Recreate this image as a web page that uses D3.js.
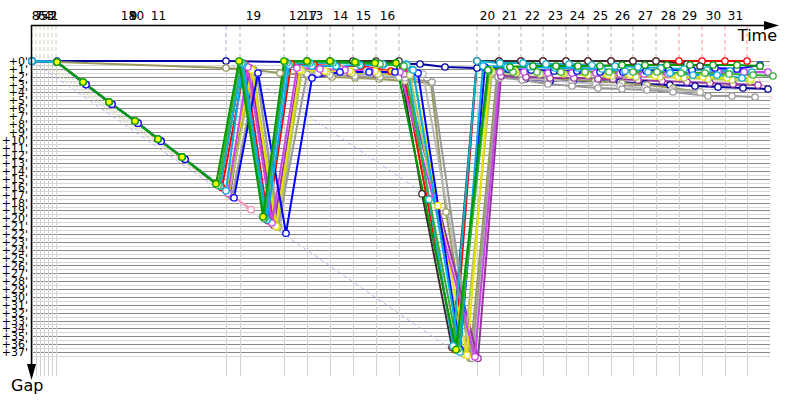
<!DOCTYPE html>
<html>
<head>
<meta charset="utf-8">
<script src="https://cdn.jsdelivr.net/npm/d3@7"></script>
<style>
body { margin: 0; background: #fff; }
text { font-family: "DejaVu Sans", sans-serif; }
</style>
</head>
<body>
<script>
// lap lines: leader crossing times (minutes)
const earlyLaps = [0, 0.4, 0.8, 1.2, 1.6, 2.0, 2.4]
const blueLaps = [19.4]
const grayLaps = [20.8, 25.2, 27.5, 29.8, 32.1, 34.4, 36.7, 44.5, 46.7, 48.9, 51.1, 53.4, 55.6, 57.9, 60.1, 62.4]
const redLaps = [64.7, 67.0, 69.3, 71.5]

// lap numbers written above the chart
const lapLabels = ['8', '7', '6', '5', '4', '3', '2', '1', '18', '9', '10', '11', '19', '12', '17', '13', '14', '15', '16',
    '20', '21', '22', '23', '24', '25', '26', '27', '28', '29', '30', '31']
const lapLabelTimes = [0.3, 0.6, 0.9, 1.2, 1.5, 1.8, 2.1, 2.2, 9.6, 10.1, 10.4, 12.6, 22.1, 26.4, 27.7, 28.3, 30.8, 33.1, 35.5,
    45.5, 47.7, 50.0, 52.3, 54.5, 56.8, 59.0, 61.3, 63.6, 65.7, 68.1, 70.3]

const gapTicks = d3.range(0, 38)

// dashed connectors [t1, gap1, t2, gap2]
const earlyLinks = [[0.4, 0, 18.6, 15.9], [0.8, 0, 19.0, 16.2], [1.2, 0, 19.4, 16.6], [1.6, 0, 19.8, 16.9], [2.0, 0, 20.2, 17.3]]
const blueLinks = [[0, 0, 42.3, 37.0], [19.4, 0, 40.0, 17.5]]
const redLinks = [[64.7, 0, 67.6, 4.45], [67.0, 0, 70.0, 4.45], [69.3, 0, 72.3, 4.58], [71.5, 0, 74.0, 4.8]]

// [time, gap]
const rampUpper = [[0, 0], [2.5, 0.13], [5.1, 2.67], [7.7, 5.21], [10.3, 7.63], [12.6, 9.92], [15.0, 12.2]]
const rampLower = [[0, 0], [2.5, 0.13], [5.4, 3.0], [8.0, 5.5], [10.6, 7.9], [12.9, 10.2], [15.3, 12.5]]

const navy = [[0, 0], [2.5, 0], [19.4, 0], [38.8, 0.38], [41.3, 0.76], [44.5, 0.89], [46.8, 1.78], [49.3, 2.29], [51.8, 2.54],
    [54.1, 2.54], [56.5, 2.54], [58.8, 2.67], [61.3, 2.92], [63.8, 3.05], [66.3, 3.18], [68.6, 3.31], [71.1, 3.43], [73.6, 3.56]]
const red = rampUpper.concat([[19.0, 16.1], [21.3, 0.38], [23.6, 20.3], [25.9, 0.38], [28.2, 0.51], [30.5, 0.64], [32.9, 0.64],
    [35.9, 1.27], [37.1, 1.14], [42.3, 36.7], [44.5, 0], [46.7, 0], [48.9, 0], [51.1, 0], [53.4, 0], [55.6, 0], [57.9, 0],
    [60.1, 0], [62.4, 0], [64.7, 0], [67.0, 0], [69.3, 0], [71.5, 0]])
const black = rampUpper.concat([[18.8, 15.9], [21.0, 0.25], [23.3, 20.0], [25.4, 0.13], [27.5, 0], [29.8, 0], [32.1, 0],
    [34.4, 0], [36.7, 0], [39.0, 16.9], [42.0, 36.4], [44.5, 0], [46.7, 0], [48.9, 0], [51.1, 0], [53.4, 0], [55.6, 0],
    [57.9, 0], [60.1, 0], [62.4, 0], [65.5, 0.38], [66.8, 0.64]])
const olive = [[0, 0], [2.5, 0.13], [19.4, 0.89], [22.2, 1.14], [24.8, 1.53], [27.5, 1.78], [30.0, 2.03],
    [32.3, 2.16], [34.7, 2.29], [37.3, 2.54], [39.9, 2.8], [41.4, 19.2], [43.8, 37.8], [46.5, 1.78], [49.0, 1.91], [51.6, 2.16],
    [54.0, 2.42], [56.3, 2.54], [59.0, 2.8], [61.5, 3.05], [64.1, 3.43], [66.8, 3.94]]
const lightgray = rampLower.concat([[20.1, 17.3], [22.4, 1.4], [24.8, 21.2], [26.8, 1.02], [28.6, 1.53], [31.1, 1.02],
    [33.5, 1.27], [36.7, 2.03], [39.1, 1.65], [44.2, 37.6], [46.8, 2.16], [49.2, 2.29], [51.6, 2.42], [54.0, 2.67],
    [56.4, 2.92], [58.8, 3.18], [61.3, 3.43], [64.0, 3.69], [66.8, 3.94]])
const gray = rampLower.concat([[20.0, 17.2], [22.5, 1.53], [24.6, 21.1], [27.5, 1.65], [29.8, 1.78], [32.3, 1.91],
    [34.8, 2.03], [37.3, 2.16], [40.0, 2.67], [44.0, 37.8], [46.6, 2.03], [49.0, 2.42], [51.6, 2.92], [54.0, 3.18],
    [56.6, 3.43], [59.0, 3.56], [61.5, 3.69], [64.1, 3.94], [67.6, 4.45], [70.0, 4.45], [72.3, 4.58]])
const purple = rampLower.concat([[19.8, 17.0], [21.8, 0.89], [24.2, 20.9], [26.7, 1.14], [29.2, 1.4], [31.8, 1.53],
    [34.4, 1.65], [37.2, 1.65], [44.6, 37.8], [46.9, 1.91], [49.4, 2.03], [51.8, 2.16], [54.2, 2.16], [56.6, 2.29],
    [58.1, 2.29], [60.6, 2.42], [63.0, 2.54], [65.5, 2.67], [67.8, 2.8], [70.1, 2.92], [72.6, 3.05]])
const magenta = rampLower.concat([[19.6, 16.8], [21.6, 0.76], [24.0, 20.6], [26.5, 0.89], [28.8, 1.02], [31.3, 1.14],
    [33.8, 1.27], [36.8, 1.4], [44.3, 37.6], [46.8, 1.4], [49.2, 1.4], [51.6, 1.53], [54.0, 1.53], [56.4, 1.53], [58.8, 1.65],
    [61.2, 1.65], [63.6, 1.65], [66.0, 1.53], [68.6, 1.4], [71.2, 1.4], [73.6, 1.4]])
const yellowgreen = rampUpper.concat([[19.7, 16.9], [22.1, 1.27], [24.5, 21.1], [27.0, 1.27], [29.5, 1.4], [32.0, 1.53],
    [34.6, 1.65], [37.8, 1.78], [43.2, 37.3], [46.0, 1.4], [48.4, 1.53], [50.8, 1.65], [53.2, 1.65], [55.6, 1.78],
    [58.0, 1.91], [60.4, 2.03], [62.8, 2.03], [65.2, 2.16], [67.6, 2.29], [70.0, 2.42], [71.8, 2.54]])
const yellow = rampUpper.concat([[19.4, 16.5], [22.0, 1.14], [24.4, 21.0], [26.8, 1.14], [29.3, 1.27], [31.8, 1.27],
    [34.3, 1.27], [38.1, 1.14], [40.6, 18.4], [43.5, 37.4], [45.8, 1.14], [48.3, 1.27], [50.5, 1.4], [53.0, 1.53],
    [55.3, 1.53], [57.6, 1.78], [59.8, 1.78], [62.3, 1.91], [64.6, 2.03], [67.1, 2.03], [69.5, 2.16], [71.9, 2.29]])
const blue = rampLower.concat([[20.2, 17.4], [22.6, 1.53], [25.4, 21.9], [28.0, 2.16], [30.8, 1.4], [33.7, 1.4], [36.3, 1.4],
    [38.6, 1.53], [42.8, 36.7], [45.3, 0.76], [47.6, 1.02], [49.9, 1.14], [52.2, 1.27], [54.5, 1.27], [56.8, 1.4], [59.1, 1.4],
    [61.4, 1.27], [63.7, 1.14], [66.0, 1.14], [68.3, 0.89], [70.5, 1.02], [72.8, 0.51]])
const cyan = rampUpper.concat([[19.4, 16.5], [21.1, 0.38], [23.5, 20.2], [25.7, 0.51], [28.0, 0.64], [30.4, 0.64],
    [32.8, 0.51], [35.1, 0.51], [37.4, 0.38], [38.1, 1.14], [42.8, 37.0], [45.1, 0.64], [47.5, 0.76], [49.8, 0.76],
    [52.3, 0.89], [54.6, 0.89], [57.0, 1.02], [59.3, 1.27], [61.6, 1.4], [63.8, 1.53], [66.1, 1.78], [68.5, 1.78], [71.0, 2.16]])
const teal = rampUpper.concat([[18.8, 15.9], [21.0, 0.25], [23.3, 20.0], [25.5, 0.25], [27.8, 0.25], [30.1, 0.25],
    [32.5, 0.25], [35.1, 0.38], [37.5, 0.51], [39.7, 17.6], [42.1, 36.2], [44.5, 0], [46.8, 0.25], [49.1, 0.25], [51.4, 0.38],
    [53.7, 0.38], [56.0, 0.51], [58.3, 0.64], [60.6, 0.76], [62.9, 0.89], [65.2, 1.02], [67.5, 1.14], [69.8, 1.27], [72.0, 1.4]])
// these two start at the second crossing
const lightgreen = rampUpper.slice(1).concat([[18.6, 15.8], [20.8, 0.13], [23.2, 20.0], [25.3, 0.13], [27.6, 0.13], [29.9, 0.13],
    [32.4, 0.25], [34.8, 0.38], [37.2, 0.64], [42.6, 36.6], [45.7, 1.27], [48.1, 1.4], [50.5, 1.4], [52.9, 1.4], [55.3, 1.4],
    [57.7, 1.4], [60.1, 1.4], [62.5, 1.4], [64.9, 1.53], [67.3, 1.53], [69.7, 1.65], [72.1, 1.78], [74.1, 1.91]])
const green = rampUpper.slice(1).concat([[18.4, 15.6], [20.7, 0], [23.1, 19.8], [25.2, 0], [27.5, 0], [29.8, 0], [32.3, 0.13],
    [34.3, 0.25], [36.4, 0.25], [42.4, 36.7], [45.6, 1.14], [47.8, 0.76], [50.1, 0.64], [52.4, 0.64], [54.6, 0.64],
    [56.8, 0.64], [59.0, 0.51], [61.3, 0.51], [63.5, 0.51], [65.8, 0.51], [68.1, 0.51], [70.5, 0.51], [72.8, 0.64]])
const pink = rampLower.concat([[19.3, 16.4], [21.9, 18.9]])

// drawing order, last on top
const drivers = ['navy', 'pink', 'red', 'black', 'olive', 'lightgray', 'gray', 'purple', 'yellowgreen', 'yellow',
    'magenta', 'blue', 'cyan', 'teal', 'lightgreen', 'green']
const driverData = { navy, red, black, olive, lightgray, gray, purple, magenta, yellowgreen, yellow, blue, cyan, teal, lightgreen, green, pink }

// styles
const colors = {
    navy: '#0000a0', red: '#ff0000', black: '#3a2c2c', olive: '#9a9a5c', lightgray: '#b8b8b8', gray: '#9a9a9a',
    purple: '#9933a0', magenta: '#cc44ee', yellowgreen: '#b0c850', yellow: '#e8e000', blue: '#0000ff', cyan: '#00aaee',
    teal: '#10b0d0', lightgreen: '#33b033', green: '#009a00', pink: '#ff90b0'
}
const yellowDots = ['red', 'green']

const svg = d3.select('body').append('svg')
    .attr('width', 800)
    .attr('height', 400)

const x = d3.scaleLinear().domain([0, 73.8]).range([32, 770])
const y = d3.scaleLinear().domain([0, 37]).range([61, 352])

// horizontal grid
const grid = svg.append('g').attr('shape-rendering', 'crispEdges')
grid.selectAll('.half').data(d3.range(0.5, 38, 1)).join('line')
    .attr('x1', x(0)).attr('x2', x(73.8))
    .attr('y1', d => Math.round(y(d)) + 0.5).attr('y2', d => Math.round(y(d)) + 0.5)
    .attr('stroke', '#d6d6d6')
grid.selectAll('.full').data(gapTicks).join('line')
    .attr('x1', x(0)).attr('x2', x(73.8))
    .attr('y1', d => Math.round(y(d)) + 0.5).attr('y2', d => Math.round(y(d)) + 0.5)
    .attr('stroke', '#8a8a8a')

// vertical lap grid
const allLaps = earlyLaps.concat(blueLaps, grayLaps, redLaps)
grid.selectAll('.vert').data(allLaps).join('line')
    .attr('x1', d => Math.round(x(d)) + 0.5).attr('x2', d => Math.round(x(d)) + 0.5)
    .attr('y1', y(0)).attr('y2', 376)
    .attr('stroke', '#d2d2d2')

// dashed lap markers from the time axis down to the leader
const dashTop = (data, color) => svg.append('g').selectAll('line').data(data).join('line')
    .attr('x1', d => x(d)).attr('x2', d => x(d))
    .attr('y1', 26).attr('y2', y(0))
    .attr('stroke', color).attr('stroke-dasharray', '4,3')
dashTop(earlyLaps, '#d4d4b8')
dashTop(blueLaps, '#a8a8f0')
dashTop(grayLaps, '#b4b4b4')
dashTop(redLaps, '#ff9a9a')

const dashLink = (data, color) => svg.append('g').selectAll('line').data(data).join('line')
    .attr('x1', d => x(d[0])).attr('y1', d => y(d[1]))
    .attr('x2', d => x(d[2])).attr('y2', d => y(d[3]))
    .attr('stroke', color).attr('stroke-dasharray', '4,3')
dashLink(earlyLinks, '#d8d8bc')
dashLink(blueLinks, '#b4b4f0')
dashLink(redLinks, '#ffaaaa')

// driver lines
const line = d3.line().x(d => x(d[0])).y(d => y(d[1]))
svg.append('g').selectAll('path').data(drivers).join('path')
    .attr('d', d => line(driverData[d]))
    .attr('fill', 'none')
    .attr('stroke', d => colors[d])
    .attr('stroke-width', 2)
    .attr('stroke-linejoin', 'round')

drivers.forEach(name => {
    svg.append('g').selectAll('circle').data(driverData[name]).join('circle')
        .attr('cx', d => x(d[0]))
        .attr('cy', d => y(d[1]))
        .attr('r', 3.2)
        .attr('fill', d => yellowDots.includes(name) && d[0] < 44 ? '#ffff00' : '#fff')
        .attr('stroke', colors[name])
        .attr('stroke-width', 1.3)
})

// axes
const lapAxis = d3.axisTop(x)
    .tickValues(lapLabelTimes)
    .tickFormat((d, i) => lapLabels[i])
    .tickSize(0)
    .tickPadding(5)
const lapAxisGroup = svg.append('g').attr('transform', 'translate(0,25)').call(lapAxis)
lapAxisGroup.select('.domain').remove()
lapAxisGroup.selectAll('text').attr('font-size', 12).attr('fill', '#000')
    .attr('font-family', '"Liberation Sans", sans-serif')

const gapAxis = d3.axisLeft(y)
    .tickValues(gapTicks)
    .tickFormat(d => '+' + d + "'")
    .tickSize(0)
    .tickPadding(3)
const gapAxisGroup = svg.append('g').attr('transform', 'translate(31,0)').call(gapAxis)
gapAxisGroup.select('.domain').remove()
gapAxisGroup.selectAll('text').attr('font-size', 11).attr('fill', '#000')
    .attr('font-family', '"Liberation Sans", sans-serif')

svg.append('line').attr('x1', 31).attr('x2', 766).attr('y1', 25.5).attr('y2', 25.5)
    .attr('stroke', '#000').attr('stroke-width', 1.5)
svg.append('path').attr('d', 'M764,21 L779,25.5 L764,30 Z').attr('fill', '#000')
svg.append('line').attr('x1', 31.5).attr('x2', 31.5).attr('y1', 25).attr('y2', 366)
    .attr('stroke', '#000').attr('stroke-width', 1.5)
svg.append('path').attr('d', 'M27,364 L31.5,380 L36,364 Z').attr('fill', '#000')

svg.append('text').attr('x', 777).attr('y', 41).attr('text-anchor', 'end')
    .attr('font-size', 16).attr('font-family', '"Liberation Sans", sans-serif').text('Time')
svg.append('text').attr('x', 11).attr('y', 391)
    .attr('font-size', 16).attr('font-family', '"Liberation Sans", sans-serif').text('Gap')
</script>
</body>
</html>
